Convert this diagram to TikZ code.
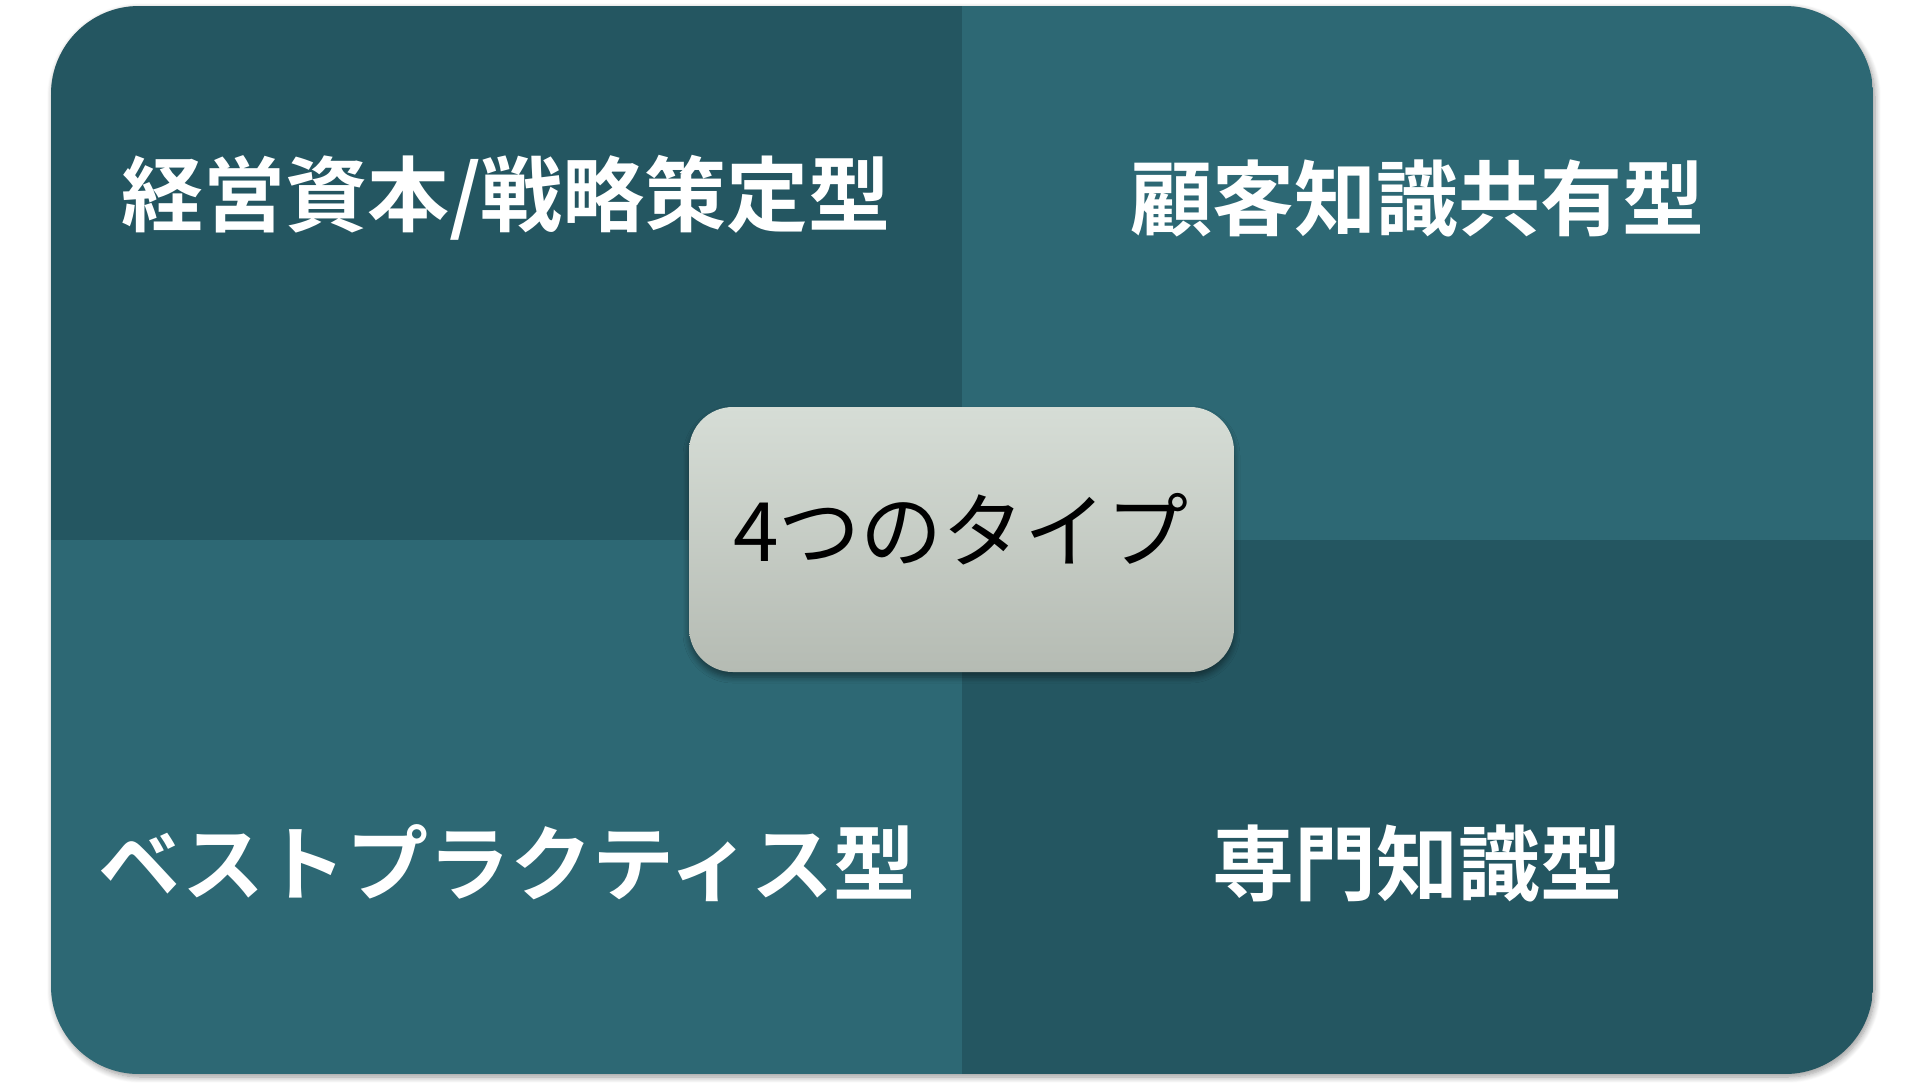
\documentclass[tikz,border=0pt]{standalone}
\usepackage{fontspec}
\usetikzlibrary{shadows,shadows.blur}
\newfontfamily\cjkbold[BoldFont={Noto Sans CJK JP Bold}]{Noto Sans CJK JP}
\newfontfamily\cjkreg{Noto Sans CJK JP}
\definecolor{tealdark}{HTML}{245661}
\definecolor{teallight}{HTML}{2D6874}
\definecolor{boxtop}{HTML}{D6DDD6}
\definecolor{boxbot}{HTML}{B5BBB3}
\tikzset{
  quadlabel/.style={text=white, font=\cjkbold\bfseries\fontsize{41pt}{48pt}\selectfont, inner sep=0pt, anchor=center},
  centerlabel/.style={text=black, font=\cjkreg\fontsize{41pt}{48pt}\selectfont, inner sep=0pt, anchor=center}
}
\begin{document}
\begin{tikzpicture}[x=0.5pt,y=-0.5pt]
\useasboundingbox (0,0) rectangle (1920,1084);
% outer rounded panel with shadow
\fill[black!35, opacity=0.5, blur shadow={shadow blur steps=8, shadow xshift=1pt, shadow yshift=-1.5pt, shadow blur radius=3pt, shadow opacity=40}]
  [rounded corners=44pt] (51,6) rectangle (1873,1074);
\begin{scope}
  \clip[rounded corners=44pt] (51,6) rectangle (1873,1074);
  \fill[tealdark] (51,6) rectangle (962,540);
  \fill[teallight] (962,6) rectangle (1873,540);
  \fill[teallight] (51,540) rectangle (962,1074);
  \fill[tealdark] (962,540) rectangle (1873,1074);
\end{scope}
% quadrant labels
\node[quadlabel] (tl) at (506,198) {経営資本/戦略策定型};
\node[quadlabel] (tr) at (1417,198) {顧客知識共有型};
\node[quadlabel] (bl) at (507,863) {ベストプラクティス型};
\node[quadlabel] (br) at (1417,863) {専門知識型};
% center box
\path[rounded corners=22pt, top color=boxtop, bottom color=boxbot,
      blur shadow={shadow blur steps=6, shadow xshift=0pt, shadow yshift=-2.5pt, shadow blur radius=3pt, shadow opacity=45}]
  (689,407) rectangle (1234,672);
\node[centerlabel] (c) at (961,529) {4つのタイプ};
\end{tikzpicture}
\end{document}
